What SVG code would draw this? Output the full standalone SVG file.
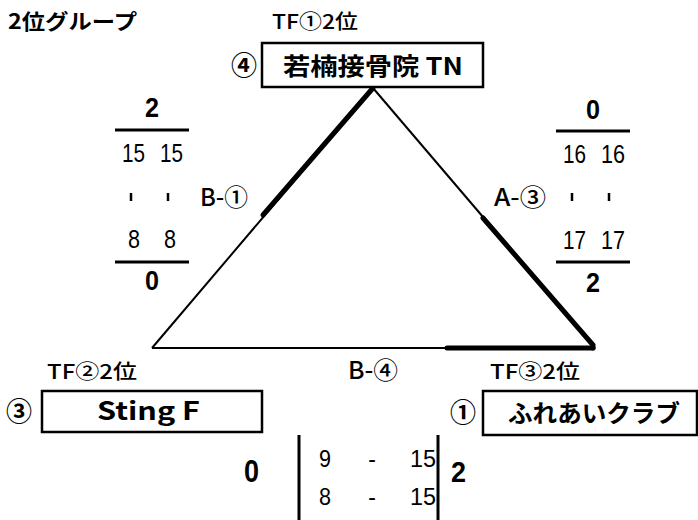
<svg xmlns="http://www.w3.org/2000/svg" width="698" height="520" viewBox="0 0 698 520">
<style>
text{font-family:"Liberation Sans","Noto Sans CJK JP",sans-serif;fill:#000}
.j{font-family:"Noto Sans CJK JP","Liberation Sans",sans-serif}
.b{font-weight:bold}
.w5{font-weight:500}
.m{text-anchor:middle}
.box{fill:#fff;stroke:#000;stroke-width:2.5}
.thin{stroke:#000;stroke-width:2;fill:none}
.thick{stroke:#000;stroke-width:5;fill:none;stroke-linecap:round}
.rule{stroke:#000;stroke-width:3}
.tick{stroke:#000;stroke-width:2.5}
.s20{font-size:20px}
.s24{font-size:24px}
.s25{font-size:25px}
.n{font-size:25px}
.n2{font-size:23px}
.big{font-size:27px;font-weight:bold}
.c{font-size:26px;font-weight:bold}
</style>
<rect width="698" height="520" fill="#fff"/>
<text class="j b" style="font-size:21px" x="8" y="29" textLength="129" lengthAdjust="spacingAndGlyphs">2位グループ</text>

<g id="connectors">
<line class="thin" x1="373" y1="88" x2="152" y2="348"/>
<line class="thin" x1="373" y1="88" x2="593" y2="346"/>
<line class="thin" x1="152" y1="348" x2="593" y2="348"/>
<path class="thick" d="M373 88 L263 215"/>
<path class="thick" d="M483 218 L593 345 L593 348"/>
<path class="thick" d="M447 348 L593 348"/>
</g>

<g id="node-tn">
<text class="j w5 s20" x="272" y="29" textLength="86" lengthAdjust="spacingAndGlyphs">TF①2位</text>
<text class="j c m" x="244" y="75">④</text>
<rect class="box" x="262" y="43" width="221" height="44"/>
<text class="j b s24" x="283" y="75" textLength="180" lengthAdjust="spacingAndGlyphs">若楠接骨院 TN</text>
</g>

<g id="node-sting">
<text class="j w5 s20" x="47" y="379" textLength="90" lengthAdjust="spacingAndGlyphs">TF②2位</text>
<text class="j c m" x="19" y="421">③</text>
<rect class="box" x="42" y="391" width="220" height="41"/>
<text class="j b s25" x="97" y="420" textLength="103" lengthAdjust="spacingAndGlyphs">Sting F</text>
</g>

<g id="node-fureai">
<text class="j w5 s20" x="490" y="379" textLength="90" lengthAdjust="spacingAndGlyphs">TF③2位</text>
<text class="j c m" x="463" y="422">①</text>
<rect class="box" x="483" y="391" width="214" height="44"/>
<text class="j b s24" x="508" y="422" textLength="172" lengthAdjust="spacingAndGlyphs">ふれあいクラブ</text>
</g>

<g id="score-left">
<text class="big" x="145" y="117" textLength="14" lengthAdjust="spacingAndGlyphs">2</text>
<line class="rule" x1="115" y1="130" x2="189" y2="130"/>
<text class="n" x="122" y="162" textLength="23" lengthAdjust="spacingAndGlyphs">15</text>
<text class="n" x="160" y="162" textLength="23" lengthAdjust="spacingAndGlyphs">15</text>
<line class="tick" x1="131" y1="193" x2="131" y2="201"/>
<line class="tick" x1="168" y1="193" x2="168" y2="201"/>
<text class="n" x="128" y="248" textLength="12" lengthAdjust="spacingAndGlyphs">8</text>
<text class="n" x="164" y="248" textLength="12" lengthAdjust="spacingAndGlyphs">8</text>
<line class="rule" x1="115" y1="262" x2="189" y2="262"/>
<text class="big" x="145" y="290" textLength="14" lengthAdjust="spacingAndGlyphs">0</text>
<text class="j w5 s24" x="200" y="206" textLength="48" lengthAdjust="spacingAndGlyphs">B-①</text>
</g>

<g id="score-right">
<text class="big" x="586" y="119" textLength="14" lengthAdjust="spacingAndGlyphs">0</text>
<line class="rule" x1="556" y1="131" x2="630" y2="131"/>
<text class="n" x="563" y="163" textLength="23" lengthAdjust="spacingAndGlyphs">16</text>
<text class="n" x="601" y="163" textLength="24" lengthAdjust="spacingAndGlyphs">16</text>
<line class="tick" x1="572" y1="193" x2="572" y2="201"/>
<line class="tick" x1="609" y1="193" x2="609" y2="201"/>
<text class="n" x="563" y="249" textLength="23" lengthAdjust="spacingAndGlyphs">17</text>
<text class="n" x="601" y="249" textLength="24" lengthAdjust="spacingAndGlyphs">17</text>
<line class="rule" x1="556" y1="262" x2="630" y2="262"/>
<text class="big" x="586" y="292" textLength="14" lengthAdjust="spacingAndGlyphs">2</text>
<text class="j w5 s24" x="494" y="206" textLength="52" lengthAdjust="spacingAndGlyphs">A-③</text>
</g>

<g id="score-bottom">
<text class="j w5 s24" x="348" y="379" textLength="50" lengthAdjust="spacingAndGlyphs">B-④</text>
<text style="font-size:32px;font-weight:bold" x="244" y="482" textLength="15" lengthAdjust="spacingAndGlyphs">0</text>
<line class="rule" x1="299" y1="435" x2="299" y2="520"/>
<line class="rule" x1="438" y1="435" x2="438" y2="520"/>
<text class="n2" x="319" y="467" textLength="12" lengthAdjust="spacingAndGlyphs">9</text>
<text class="n2 m" x="372" y="467">-</text>
<text class="n2" x="410" y="467" textLength="26" lengthAdjust="spacingAndGlyphs">15</text>
<text class="n2" x="319" y="505" textLength="12" lengthAdjust="spacingAndGlyphs">8</text>
<text class="n2 m" x="372" y="505">-</text>
<text class="n2" x="410" y="505" textLength="26" lengthAdjust="spacingAndGlyphs">15</text>
<text style="font-size:30px;font-weight:bold" x="451" y="482" textLength="15" lengthAdjust="spacingAndGlyphs">2</text>
</g>
</svg>
